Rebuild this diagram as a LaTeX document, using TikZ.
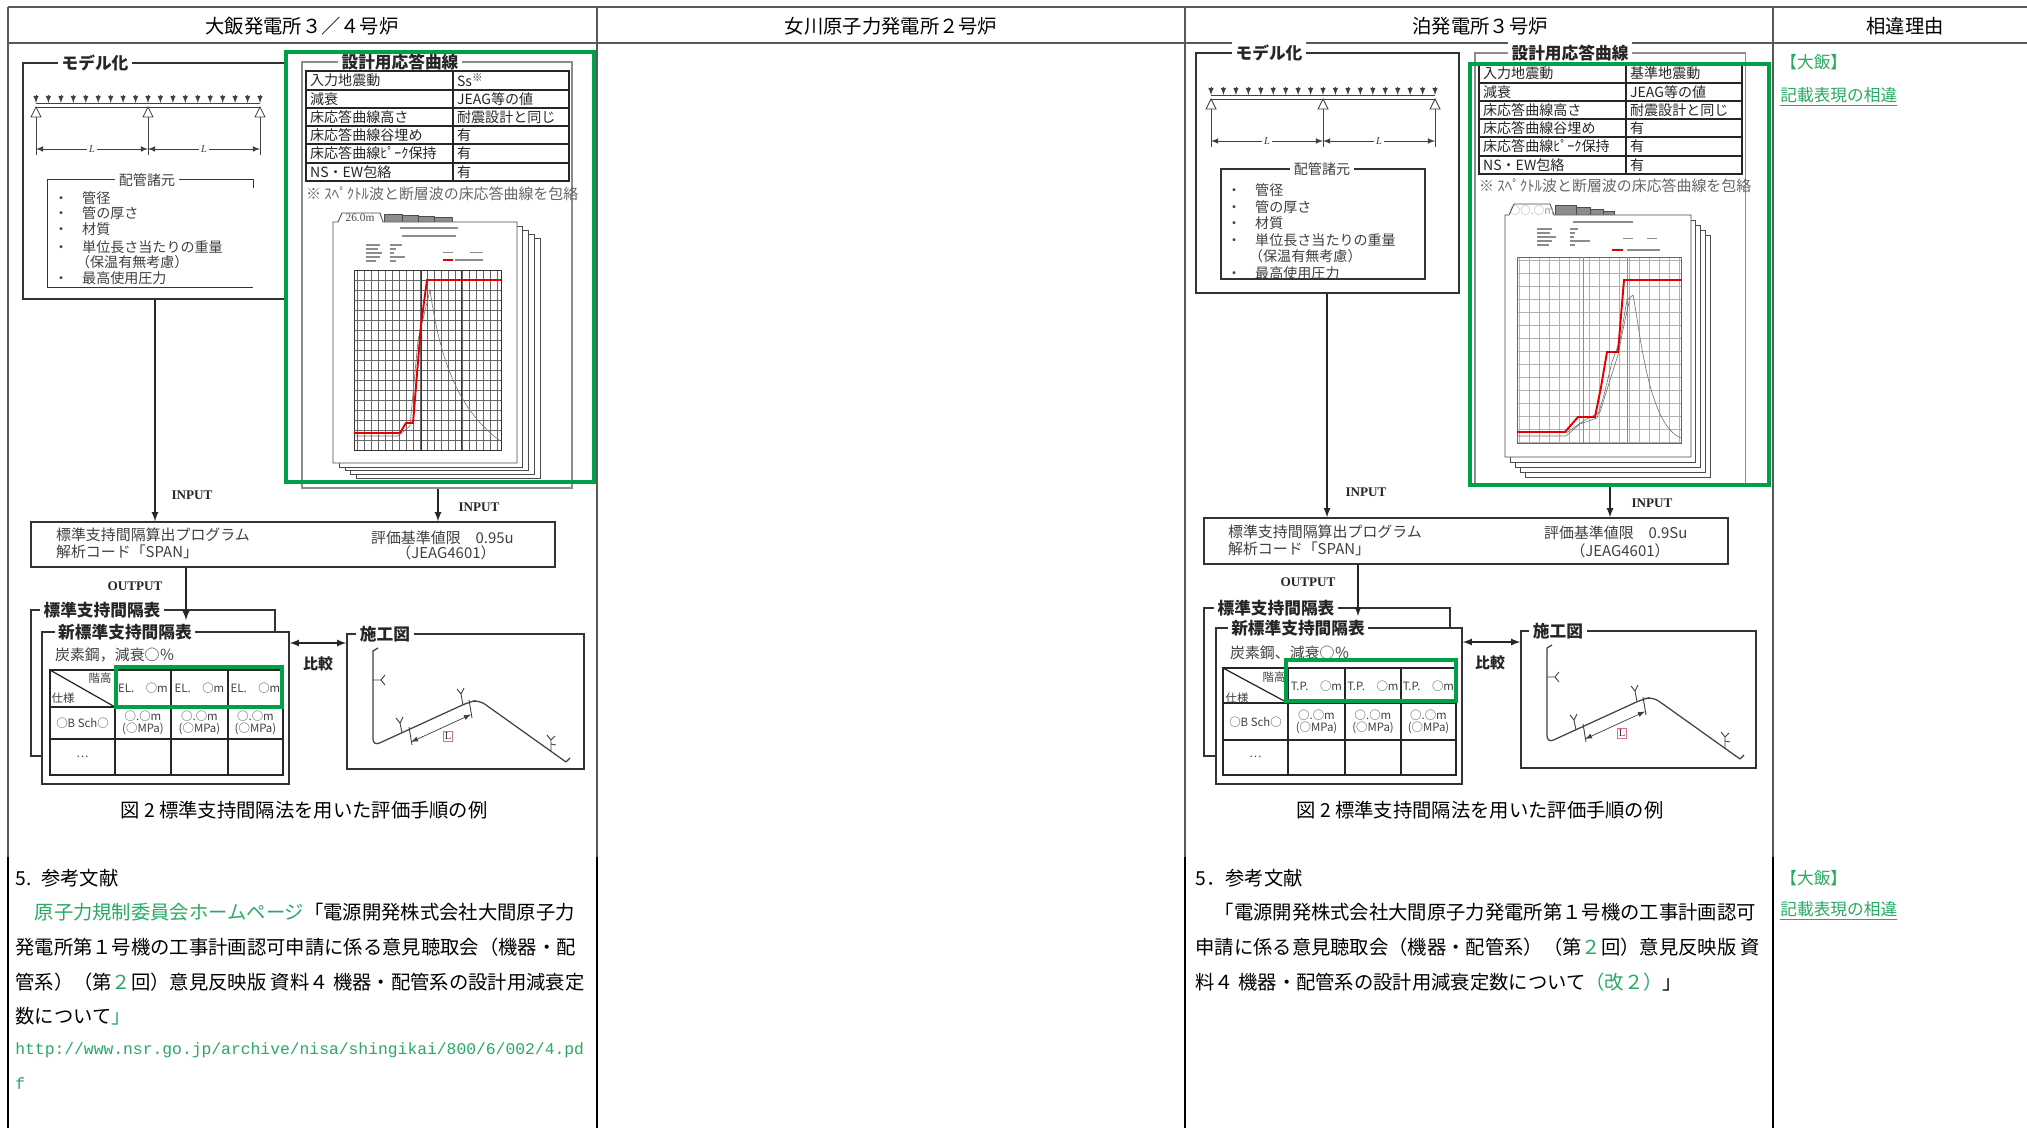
\documentclass[tikz,border=0pt]{standalone}
\usepackage{fontspec}
\setmainfont{Noto Sans CJK JP}
\newfontfamily\urlfont{Liberation Mono}
\newfontfamily\latn{Liberation Serif}
\usetikzlibrary{calc,fit}
\definecolor{grn}{RGB}{0,160,72}
\definecolor{txtgrn}{RGB}{40,170,100}
\definecolor{pinkbox}{RGB}{225,110,135}
\newcommand{\fsz}[1]{\fontsize{#1pt}{#1pt}\selectfont}
% uniform load on a two-span beam, origin at the left support
\newcommand{\beamrow}[1]{%
  \draw[load] (0,8) -- (0,0); \draw[load] (12.4,8) -- (12.4,0); \draw[load] (24.9,8) -- (24.9,0);
  \draw[load] (37.3,8) -- (37.3,0); \draw[load] (49.8,8) -- (49.8,0); \draw[load] (62.2,8) -- (62.2,0);
  \draw[load] (74.7,8) -- (74.7,0); \draw[load] (87.1,8) -- (87.1,0); \draw[load] (99.6,8) -- (99.6,0);
  \draw[load] (112,8) -- (112,0); \draw[load] (124.4,8) -- (124.4,0); \draw[load] (136.9,8) -- (136.9,0);
  \draw[load] (149.3,8) -- (149.3,0); \draw[load] (161.8,8) -- (161.8,0); \draw[load] (174.2,8) -- (174.2,0);
  \draw[load] (186.7,8) -- (186.7,0); \draw[load] (199.1,8) -- (199.1,0); \draw[load] (211.6,8) -- (211.6,0);
  \draw[load] (224,8) -- (224,0);
  \draw[thinln] (0,0) -- (224,0);
  \draw[thinln] (0,-4) -- (224,-4);
  \draw[thinln] (0,-4) -- (-5,-14) -- (5,-14) -- cycle;
  \draw[thinln] (112,-4) -- (107,-14) -- (117,-14) -- cycle;
  \draw[thinln] (224,-4) -- (219,-14) -- (229,-14) -- cycle;
  \draw[thinln] (0,-14) -- (0,-52);
  \draw[thinln] (112,-14) -- (112,-52);
  \draw[thinln] (224,-14) -- (224,-52);
  \draw[dimln] (0,-46) -- (112,-46) node[dimlbl] (#1a) {L};
  \draw[dimln] (112,-46) -- (224,-46) node[dimlbl] (#1b) {L};
}
% piping route of the construction drawing, origin at the box corner
\newcommand{\pipeplan}[1]{%
  \draw[thinln, line width=0.7pt] (31,-14) -- (26,-17) -- (26,-100);
  \draw[thinln, line width=0.7pt, rounded corners=4pt] (26,-100) -- (26,-112) -- (122,-68) -- (132,-66) -- (219,-128);
  \draw[thinln, line width=0.7pt] (219,-128) -- (223,-124);
  \draw[thinln] (62,-93) -- (65,-111);
  \draw[thinln] (122,-66) -- (125,-84);
  \draw[dimln] (64,-108) -- (124,-80.5);
  \node[lbox] (#1L) at (101,-102) {L};
  \draw[thinln] (26,-46) -- (34,-46) -- (38,-41) (34,-46) -- (38,-51);
  \draw[thinln] (55,-99) -- (53,-89) -- (49,-84) (53,-89) -- (56,-83);
  \draw[thinln] (116,-71) -- (114,-60) -- (110,-55) (114,-60) -- (117,-54);
  \draw[thinln] (204,-117) -- (204,-106) -- (200,-101) (204,-106) -- (208,-102) (204,-110) -- (209,-111);
}

\begin{document}
\begin{tikzpicture}[x=0.02cm, y=0.02cm]
  \tikzstyle{rule} = [draw=black!65, line width=1pt];
  \tikzstyle{hdr} = [font=\fsz{11}, inner sep=1pt];
  \tikzstyle{box} = [draw=black!80, line width=0.8pt, inner sep=0pt];
  \tikzstyle{gbox} = [draw=black!45, line width=0.6pt, inner sep=0pt];
  \tikzstyle{grnbox} = [draw=grn, line width=2.6pt, inner sep=0pt];
  \tikzstyle{ttl} = [fill=white, inner sep=2pt, font=\fsz{9.5}\bfseries, text=black!85];
  \tikzstyle{stl} = [fill=white, inner sep=2pt, font=\fsz{8}, text=black!75];
  \tikzstyle{sml} = [font=\fsz{8}, text=black!75, inner sep=1pt, anchor=west];
  \tikzstyle{celltxt} = [font=\fsz{8}, text=black!85, inner sep=1pt, anchor=west];
  \tikzstyle{tinytxt} = [font=\fsz{6.5}, text=black!75, inner sep=0.5pt, align=center];
  \tikzstyle{lbl} = [font=\latn\bfseries\fsz{7.5}, text=black!85];
  \tikzstyle{body} = [font=\fsz{11}, anchor=west, inner sep=0pt];
  \tikzstyle{reason} = [font=\fsz{9.5}, text=txtgrn, anchor=west, inner sep=0pt];
  \tikzstyle{figcap} = [font=\fsz{11}];
  \tikzstyle{arr} = [-latex, draw=black!85, line width=0.8pt];
  \tikzstyle{arr2} = [latex-latex, draw=black!85, line width=0.8pt];
  \tikzstyle{thinln} = [draw=black!75, line width=0.5pt];
  \tikzstyle{load} = [-latex, draw=black!75, line width=0.4pt];
  \tikzstyle{dimln} = [latex-latex, draw=black!75, line width=0.4pt];
  \tikzstyle{dimlbl} = [midway, fill=white, inner sep=1pt, font=\latn\itshape\fsz{6}, text=black!75];
  \tikzstyle{sheet} = [draw=black!70, fill=white, line width=0.5pt];
  \tikzstyle{tabfill} = [draw=black!70, fill=black!45, line width=0.3pt];
  \tikzstyle{info} = [draw=black!45, line width=0.8pt];
  \tikzstyle{redcv} = [draw=red!90!black, line width=1.1pt];
  \tikzstyle{graycv} = [draw=black!55, line width=0.35pt];
  \tikzstyle{tbl} = [draw=black!85, line width=0.7pt];
  \tikzstyle{lbox} = [draw=pinkbox, fill=white, inner sep=0.8pt, font=\latn\fsz{6}, text=black!80];

  \fill[white] (0,0) rectangle (2027,-1128);
  \useasboundingbox (0,0) rectangle (2027,-1128);

  % table frame
  \draw[rule, line width=1.3pt] (8,-7) -- (2027,-7);
  \draw[rule, line width=1.3pt] (8,-43) -- (2027,-43);
  \draw[rule] (8,-7) -- (8,-857);
  \draw[rule] (597,-7) -- (597,-857);
  \draw[rule] (1185,-7) -- (1185,-857);
  \draw[rule] (1773,-7) -- (1773,-857);
  \draw[rule, draw=black, line width=1.3pt] (8,-857) -- (8,-1128);
  \draw[rule, draw=black, line width=1.3pt] (597,-857) -- (597,-1128);
  \draw[rule, draw=black, line width=1.3pt] (1185,-857) -- (1185,-1128);
  \draw[rule, draw=black, line width=1.3pt] (1773,-857) -- (1773,-1128);
  \node[hdr] (h1) at (302,-26) {大飯発電所３／４号炉};
  \node[hdr] (h2) at (891,-26) {女川原子力発電所２号炉};
  \node[hdr] (h3) at (1480,-26) {泊発電所３号炉};
  \node[hdr] (h4) at (1905,-26) {相違理由};

  % ===== 大飯 =====
  \node[box, fit={(23,-63) (285,-299)}] (omodel) {};
  \node[ttl] (omodelt) at (95,-63) {モデル化};
  \begin{scope}[shift={(36,-103)}]
    \beamrow{obm}
  \end{scope}
  \node[inner sep=0pt, fit={(48,-180) (253,-287)}] (ospec) {};
  \draw[box] ($(ospec.north east)+(0,-8)$) -- (ospec.north east) -- (ospec.north west) -- (ospec.south west) -- (ospec.south east);
  \node[stl] (ospect) at (147,-180) {配管諸元};
  \node[sml] (os1) at (52,-198) {・　管径};
  \node[sml] (os2) at (52,-213) {・　管の厚さ};
  \node[sml] (os3) at (52,-229) {・　材質};
  \node[sml] (os4) at (52,-247) {・　単位長さ当たりの重量};
  \node[sml] (os5) at (74,-262) {（保温有無考慮）};
  \node[sml] (os6) at (52,-278) {・　最高使用圧力};

  \node[gbox, fit={(302,-62) (572,-488)}] (odesign) {};
  \node[ttl] (odesignt) at (400,-62) {設計用応答曲線};
  \draw[tbl, line width=1pt] (306,-71) rectangle (569,-181);
  \draw[tbl] (306,-90) -- (569,-90);
  \draw[tbl] (306,-108) -- (569,-108);
  \draw[tbl, line width=1.3pt] (306,-126) -- (569,-126);
  \draw[tbl] (306,-144) -- (569,-144);
  \draw[tbl] (306,-163) -- (569,-163);
  \draw[tbl] (453,-71) -- (453,-181);
  \node[celltxt] (or1) at (308,-80.5) {入力地震動};
  \node[celltxt] (or2) at (308,-99) {減衰};
  \node[celltxt] (or3) at (308,-117) {床応答曲線高さ};
  \node[celltxt] (or4) at (308,-135) {床応答曲線谷埋め};
  \node[celltxt] (or5) at (308,-153.5) {床応答曲線ﾋﾟｰｸ保持};
  \node[celltxt] (or6) at (308,-172) {NS・EW包絡};
  \node[celltxt] (ov1) at (455,-80.5) {Ss\textsuperscript{※}};
  \node[celltxt] (ov2) at (455,-99) {JEAG等の値};
  \node[celltxt] (ov3) at (455,-117) {耐震設計と同じ};
  \node[celltxt] (ov4) at (455,-135) {有};
  \node[celltxt] (ov5) at (455,-153.5) {有};
  \node[celltxt] (ov6) at (455,-172) {有};
  \node[sml, font=\fsz{8.5}, text=black!60] (onote) at (304,-194) {※ ｽﾍﾟｸﾄﾙ波と断層波の床応答曲線を包絡};

  % response spectrum sheets
  \draw[sheet] (356,-238) rectangle (540,-478);
  \draw[sheet] (350,-234) rectangle (534,-474);
  \draw[sheet] (345,-230) rectangle (528,-470);
  \draw[sheet] (339,-226) rectangle (522,-467);
  \draw[tabfill] (424,-217) rectangle (452,-225);
  \draw[tabfill] (410,-216) rectangle (434,-224);
  \draw[tabfill] (397,-215) rectangle (418,-223);
  \draw[tabfill] (384,-214) rectangle (402,-222);
  \draw[sheet] (333,-222) -- (338,-222) -- (342,-213) -- (380,-213) -- (383,-222) -- (517,-222) -- (517,-463) -- (333,-463) -- cycle;
  \node[font=\latn\fsz{6.5}, text=black!70, inner sep=0pt] (otab) at (360,-218) {26.0m};
  \draw[info] (400,-228) -- (458,-228);
  \draw[info] (402,-236) -- (456,-236);
  \draw[info, line width=0.6pt] (366,-245) -- (380,-245) (366,-249) -- (378,-249) (366,-253) -- (382,-253) (366,-257) -- (380,-257) (366,-261) -- (376,-261);
  \draw[info, line width=0.6pt] (390,-245) -- (402,-245) (390,-249) -- (396,-249) (390,-253) -- (394,-253) (390,-257) -- (405,-257) (390,-261) -- (396,-261);
  \draw[info, line width=0.4pt] (443,-252) -- (453,-252) (470,-252) -- (483,-252);
  \draw[redcv] (443,-260) -- (453,-260);
  \draw[info, line width=0.6pt] (455,-260) -- (483,-260);
  \draw[black!60, line width=0.3pt, xstep=0.14cm, ystep=0.2cm] (354,-450) grid (501,-270);
  \draw[black!80, line width=0.5pt] (354,-270) rectangle (501,-450);
  \draw[black!80, line width=0.5pt] (421,-270) -- (421,-450) (461,-270) -- (461,-450);
  \draw[graycv] (354,-436) -- (398,-436) -- (410,-426) -- (418,-340) -- (430,-290) .. controls (438,-345) and (452,-405) .. (499,-440);
  \draw[redcv] (354,-433) -- (400,-433) -- (406,-423) -- (413,-423) -- (421,-325) -- (427,-280) -- (501,-280);
  \node[grnbox, fit={(286,-52) (594,-482)}] (ogreen) {};

  % program box and inputs
  \node[box, fit={(31,-522) (555,-567)}] (oprog) {};
  \coordinate (oxa) at (155,0);
  \coordinate (oxb) at (438,0);
  \coordinate (oxc) at (186,0);
  \draw[arr] (omodel.south -| oxa) -- (oprog.north -| oxa);
  \draw[arr] (odesign.south -| oxb) -- (oprog.north -| oxb);
  \node[lbl] (oin1) at (192,-495) {INPUT};
  \node[lbl] (oin2) at (479,-507) {INPUT};
  \node[sml, font=\fsz{8.5}] (op1) at (54,-535) {標準支持間隔算出プログラム};
  \node[sml, font=\fsz{8.5}] (op2) at (54,-552) {解析コード「SPAN」};
  \node[sml, font=\fsz{8.5}] (op3) at (369,-538) {評価基準値限　0.95u};
  \node[font=\fsz{8.5}, text=black!75, inner sep=1pt] (op4) at (446,-553) {（JEAG4601）};
  \node[lbl] (oout) at (135,-586) {OUTPUT};

  % span tables
  \node[box, fit={(31,-610) (275,-756)}] (oold) {};
  \node[ttl] (ooldt) at (102,-610) {標準支持間隔表};
  \node[box, fill=white, fit={(42,-632) (289,-784)}] (onew) {};
  \node[ttl] (onewt) at (125,-632) {新標準支持間隔表};
  \draw[arr] (oprog.south -| oxc) -- (onewt.north -| oxc);
  \node[sml, font=\fsz{8.5}] (osteel) at (53,-655) {炭素鋼，減衰○％};
  \draw[tbl] (50,-670) rectangle (283,-775);
  \draw[tbl] (50,-707) -- (283,-707);
  \draw[tbl] (50,-739) -- (283,-739);
  \draw[tbl] (115,-670) -- (115,-775);
  \draw[tbl] (171,-670) -- (171,-775);
  \draw[tbl] (228,-670) -- (228,-775);
  \draw[tbl] (50,-670) -- (115,-707);
  \node[tinytxt] (oth1) at (100,-678) {階高};
  \node[tinytxt] (oth2) at (63,-698) {仕様};
  \node[tinytxt] (oth3) at (143,-688) {EL.　○m};
  \node[tinytxt] (oth4) at (199.5,-688) {EL.　○m};
  \node[tinytxt] (oth5) at (255.5,-688) {EL.　○m};
  \node[tinytxt] (otd1) at (82.5,-723) {○B Sch○};
  \node[tinytxt] (otd2) at (143,-723) {○.○m\\(○MPa)};
  \node[tinytxt] (otd3) at (199.5,-723) {○.○m\\(○MPa)};
  \node[tinytxt] (otd4) at (255.5,-723) {○.○m\\(○MPa)};
  \node[tinytxt] (otd5) at (82.5,-757) {…};
  \node[grnbox, fit={(116,-667) (282,-707)}] (ogrnhead) {};

  % construction drawing
  \node[box, fit={(347,-634) (584,-769)}] (oplan) {};
  \node[ttl] (oplant) at (385,-634) {施工図};
  \begin{scope}[shift={(347,-634)}]
    \pipeplan{opp}
  \end{scope}
  \coordinate (oyq) at (0,-643);
  \draw[arr2] (onew.east |- oyq) -- (oplan.west |- oyq);
  \node[font=\fsz{8.5}\bfseries, text=black!85] (ocmp) at (318,-664) {比較};
  \node[figcap] (ocap) at (304,-810) {図 2 標準支持間隔法を用いた評価手順の例};

  % references
  \node[body] (oref0) at (15,-878) {5.\enspace 参考文献};
  \node[body] (oref1) at (15,-912) {　\textcolor{txtgrn}{原子力規制委員会ホームページ}「電源開発株式会社大間原子力};
  \node[body] (oref2) at (15,-947) {発電所第１号機の工事計画認可申請に係る意見聴取会（機器・配};
  \node[body] (oref3) at (15,-982) {管系）（第\textcolor{txtgrn}{２}回）意見反映版 資料４ 機器・配管系の設計用減衰定};
  \node[body] (oref4) at (15,-1016) {数について\textcolor{txtgrn}{」}};
  \node[body, font=\urlfont\fsz{9.3}, text=txtgrn] (ourl1) at (15,-1050) {http://www.nsr.go.jp/archive/nisa/shingikai/800/6/002/4.pd};
  \node[body, font=\urlfont\fsz{9.3}, text=txtgrn] (ourl2) at (15,-1084) {f};

  % ===== 泊 =====
  \node[box, fit={(1196,-53) (1459,-293)}] (tmodel) {};
  \node[ttl] (tmodelt) at (1269,-53) {モデル化};
  \begin{scope}[shift={(1211,-95)}]
    \beamrow{tbm}
  \end{scope}
  \node[box, fit={(1221,-169) (1425,-279)}] (tspec) {};
  \node[stl] (tspect) at (1322,-169) {配管諸元};
  \node[sml] (ts1) at (1225,-190) {・　管径};
  \node[sml] (ts2) at (1225,-207) {・　管の厚さ};
  \node[sml] (ts3) at (1225,-223) {・　材質};
  \node[sml] (ts4) at (1225,-240) {・　単位長さ当たりの重量};
  \node[sml] (ts5) at (1247,-256) {（保温有無考慮）};
  \node[sml] (ts6) at (1225,-273) {・　最高使用圧力};

  \node[gbox, fit={(1475,-53) (1745,-486)}] (tdesign) {};
  \node[ttl] (tdesignt) at (1570,-53) {設計用応答曲線};
  \draw[tbl] (1479,-63) rectangle (1742,-174);
  \draw[tbl] (1479,-83) -- (1742,-83);
  \draw[tbl] (1479,-101) -- (1742,-101);
  \draw[tbl] (1479,-119) -- (1742,-119);
  \draw[tbl] (1479,-137) -- (1742,-137);
  \draw[tbl] (1479,-156) -- (1742,-156);
  \draw[tbl] (1626,-63) -- (1626,-174);
  \node[celltxt] (tr1) at (1481,-73) {入力地震動};
  \node[celltxt] (tr2) at (1481,-92) {減衰};
  \node[celltxt] (tr3) at (1481,-110) {床応答曲線高さ};
  \node[celltxt] (tr4) at (1481,-128) {床応答曲線谷埋め};
  \node[celltxt] (tr5) at (1481,-146.5) {床応答曲線ﾋﾟｰｸ保持};
  \node[celltxt] (tr6) at (1481,-165) {NS・EW包絡};
  \node[celltxt] (tv1) at (1628,-73) {基準地震動};
  \node[celltxt] (tv2) at (1628,-92) {JEAG等の値};
  \node[celltxt] (tv3) at (1628,-110) {耐震設計と同じ};
  \node[celltxt] (tv4) at (1628,-128) {有};
  \node[celltxt] (tv5) at (1628,-146.5) {有};
  \node[celltxt] (tv6) at (1628,-165) {有};
  \node[sml, font=\fsz{8.5}, text=black!60] (tnote) at (1477,-186) {※ ｽﾍﾟｸﾄﾙ波と断層波の床応答曲線を包絡};

  % response spectrum sheets
  \draw[sheet] (1525,-235) rectangle (1710,-477);
  \draw[sheet] (1520,-230) rectangle (1705,-472);
  \draw[sheet] (1515,-225) rectangle (1700,-467);
  \draw[sheet] (1510,-220) rectangle (1695,-462);
  \draw[tabfill] (1598,-211) rectangle (1614,-218);
  \draw[tabfill] (1584,-209) rectangle (1603,-217);
  \draw[tabfill] (1569,-207) rectangle (1590,-216);
  \draw[tabfill] (1555,-205) rectangle (1576,-215);
  \draw[sheet] (1505,-215) -- (1509,-215) -- (1514,-204) -- (1550,-204) -- (1554,-215) -- (1691,-215) -- (1691,-457) -- (1505,-457) -- cycle;
  \node[font=\fsz{6}, text=black!40, inner sep=0pt] (ttab) at (1532,-210) {○○.○m};
  \draw[info] (1573,-222) -- (1633,-222);
  \draw[info, line width=0.6pt] (1537,-229) -- (1552,-229) (1537,-233) -- (1550,-233) (1537,-237) -- (1556,-237) (1537,-241) -- (1552,-241) (1537,-245) -- (1549,-245);
  \draw[info, line width=0.6pt] (1570,-229) -- (1578,-229) (1570,-233) -- (1575,-233) (1570,-237) -- (1574,-237) (1570,-241) -- (1590,-241) (1570,-245) -- (1575,-245);
  \draw[info, line width=0.4pt] (1623,-238) -- (1633,-238) (1647,-238) -- (1657,-238);
  \draw[redcv] (1612,-250) -- (1623,-250);
  \draw[info, line width=0.6pt] (1627,-250) -- (1660,-250);
  \draw[black!30, line width=0.3pt, xstep=0.2cm, ystep=0.26cm] (1517,-443) grid (1681,-257);
  \draw[black!60, line width=0.4pt] (1517,-257) rectangle (1681,-443);
  \draw[black!45, line width=0.4pt] (1583,-257) -- (1583,-443) (1627,-257) -- (1627,-443);
  \draw[graycv] (1517,-436) -- (1566,-436) -- (1580,-424) -- (1597,-418) -- (1604,-395) -- (1612,-362) -- (1620,-340) -- (1627,-300) -- (1633,-295) .. controls (1640,-330) and (1648,-425) .. (1681,-438);
  \draw[graycv] (1566,-433) -- (1585,-420) -- (1600,-412) -- (1610,-380) -- (1618,-355) -- (1625,-320) -- (1630,-298);
  \draw[redcv] (1517,-432) -- (1565,-432) -- (1578,-417) -- (1595,-417) -- (1601,-387) -- (1607,-352) -- (1618,-352) -- (1624,-280) -- (1681,-280);
  \node[grnbox, fit={(1470,-64) (1769,-485)}] (tgreen) {};

  % program box and inputs
  \node[box, fit={(1204,-518) (1728,-564)}] (tprog) {};
  \coordinate (txa) at (1327,0);
  \coordinate (txb) at (1610,0);
  \coordinate (txc) at (1358,0);
  \draw[arr] (tmodel.south -| txa) -- (tprog.north -| txa);
  \draw[arr] (tdesign.south -| txb) -- (tprog.north -| txb);
  \node[lbl] (tin1) at (1366,-492) {INPUT};
  \node[lbl] (tin2) at (1652,-503) {INPUT};
  \node[sml, font=\fsz{8.5}] (tp1) at (1226,-532) {標準支持間隔算出プログラム};
  \node[sml, font=\fsz{8.5}] (tp2) at (1226,-549) {解析コード「SPAN」};
  \node[sml, font=\fsz{8.5}] (tp3) at (1542,-533) {評価基準値限　0.9Su};
  \node[font=\fsz{8.5}, text=black!75, inner sep=1pt] (tp4) at (1620,-551) {（JEAG4601）};
  \node[lbl] (tout) at (1308,-582) {OUTPUT};

  % span tables
  \node[box, fit={(1204,-608) (1450,-756)}] (told) {};
  \node[ttl] (toldt) at (1276,-608) {標準支持間隔表};
  \node[box, fill=white, fit={(1216,-628) (1462,-784)}] (tnew) {};
  \node[ttl] (tnewt) at (1298,-628) {新標準支持間隔表};
  \draw[arr] (tprog.south -| txc) -- (tnewt.north -| txc);
  \node[sml, font=\fsz{8.5}] (tsteel) at (1228,-653) {炭素鋼、減衰○％};
  \draw[tbl] (1223,-668) rectangle (1456,-775);
  \draw[tbl] (1223,-703) -- (1456,-703);
  \draw[tbl] (1223,-740) -- (1456,-740);
  \draw[tbl] (1288,-668) -- (1288,-775);
  \draw[tbl] (1345,-668) -- (1345,-775);
  \draw[tbl] (1401,-668) -- (1401,-775);
  \draw[tbl] (1223,-668) -- (1288,-703);
  \node[tinytxt] (tth1) at (1274,-677) {階高};
  \node[tinytxt] (tth2) at (1237,-698) {仕様};
  \node[tinytxt] (tth3) at (1316.5,-686) {T.P.　○m};
  \node[tinytxt] (tth4) at (1373,-686) {T.P.　○m};
  \node[tinytxt] (tth5) at (1428.5,-686) {T.P.　○m};
  \node[tinytxt] (ttd1) at (1255.5,-722) {○B Sch○};
  \node[tinytxt] (ttd2) at (1316.5,-722) {○.○m\\(○MPa)};
  \node[tinytxt] (ttd3) at (1373,-722) {○.○m\\(○MPa)};
  \node[tinytxt] (ttd4) at (1428.5,-722) {○.○m\\(○MPa)};
  \node[tinytxt] (ttd5) at (1255.5,-757) {…};
  \node[grnbox, fit={(1286,-660) (1456,-701)}] (tgrnhead) {};

  % construction drawing
  \node[box, fit={(1521,-631) (1756,-768)}] (tplan) {};
  \node[ttl] (tplant) at (1558,-631) {施工図};
  \begin{scope}[shift={(1521,-631)}]
    \pipeplan{tpp}
  \end{scope}
  \coordinate (tyq) at (0,-642);
  \draw[arr2] (tnew.east |- tyq) -- (tplan.west |- tyq);
  \node[font=\fsz{8.5}\bfseries, text=black!85] (tcmp) at (1490,-663) {比較};
  \node[figcap] (tcap) at (1480,-810) {図 2 標準支持間隔法を用いた評価手順の例};

  % references
  \node[body] (tref0) at (1195,-878) {5．参考文献};
  \node[body] (tref1) at (1195,-912) {　「電源開発株式会社大間原子力発電所第１号機の工事計画認可};
  \node[body] (tref2) at (1195,-947) {申請に係る意見聴取会（機器・配管系）（第\textcolor{txtgrn}{２}回）意見反映版 資};
  \node[body] (tref3) at (1195,-982) {料４ 機器・配管系の設計用減衰定数について\textcolor{txtgrn}{（改２）}」};

  % ===== 相違理由 =====
  \node[reason] (d1) at (1780,-62) {【大飯】};
  \node[reason] (d2) at (1780,-97) {\underline{記載表現の相違}};
  \node[reason] (d3) at (1780,-878) {【大飯】};
  \node[reason] (d4) at (1780,-911) {\underline{記載表現の相違}};
\end{tikzpicture}
\end{document}
